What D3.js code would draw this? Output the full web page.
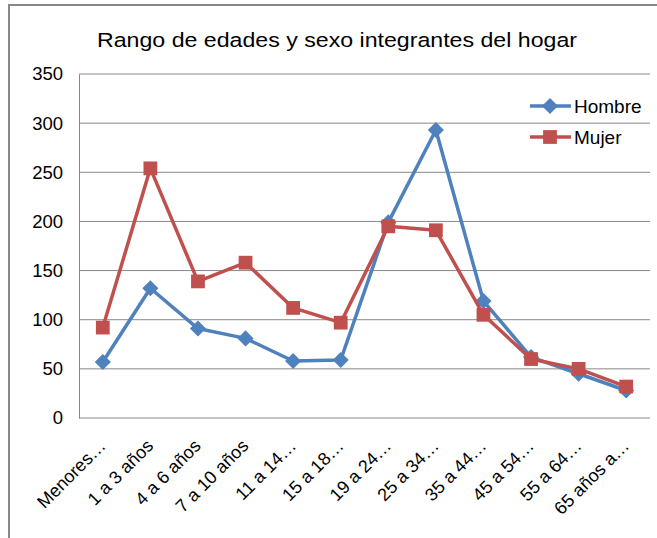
<!DOCTYPE html>
<html>
<head>
<meta charset="utf-8">
<script src="https://cdn.jsdelivr.net/npm/d3@7"></script>
<style>
  body { margin: 0; background: #fff; }
  svg { display: block; font-family: "Liberation Sans", Arial, sans-serif; }
</style>
</head>
<body>
<div id="chart"></div>
<script>
const categories = ["Menores…", "1 a 3 años", "4 a 6 años", "7 a 10 años", "11 a 14…", "15 a 18…",
  "19 a 24…", "25 a 34…", "35 a 44…", "45 a 54…", "55 a 64…", "65 años a…"];
const hombre = [57, 132, 91, 81, 58, 59, 199, 293, 119, 62, 45, 28];
const mujer = [92, 254, 139, 158, 112, 97, 195, 191, 105, 60, 50, 32];
const yTicks = [0, 50, 100, 150, 200, 250, 300, 350];

const width = 657, height = 538;
const margin = { top: 74, right: 7, bottom: 120, left: 79 };

const svg = d3.select("#chart").append("svg")
  .attr("width", width)
  .attr("height", height);

// outer frame (only left and top visible)
svg.append("path")
  .attr("d", "M9,538 V5 H657")
  .attr("fill", "none")
  .attr("stroke", "#888")
  .attr("stroke-width", 2);

svg.append("text")
  .attr("x", 337)
  .attr("y", 47)
  .attr("text-anchor", "middle")
  .attr("font-size", 20.5)
  .attr("textLength", 480)
  .attr("lengthAdjust", "spacingAndGlyphs")
  .text("Rango de edades y sexo integrantes del hogar");

const x = d3.scaleBand()
  .domain(categories)
  .range([margin.left, width - margin.right]);

const y = d3.scaleLinear()
  .domain([0, 350])
  .range([height - margin.bottom, margin.top]);

// gridlines
svg.append("g")
  .selectAll("line")
  .data(yTicks)
  .enter()
  .append("line")
  .attr("x1", margin.left)
  .attr("x2", width - margin.right)
  .attr("y1", d => y(d))
  .attr("y2", d => y(d))
  .attr("stroke", "#888")
  .attr("stroke-width", 1);

// y axis
const yAxis = d3.axisLeft(y).tickValues(yTicks).tickSize(0).tickPadding(16);
svg.append("g")
  .attr("transform", `translate(${margin.left},0)`)
  .call(yAxis)
  .call(g => g.select(".domain").attr("stroke", "#888"))
  .selectAll("text")
  .attr("font-size", 18.5)
  .attr("fill", "#000")
  .attr("font-family", "Liberation Sans, Arial, sans-serif");

// x axis labels
svg.append("g")
  .selectAll("text")
  .data(categories)
  .enter()
  .append("text")
  .attr("transform", d => `translate(${x(d) + x.bandwidth() / 2 + 4},${height - margin.bottom + 29}) rotate(-45)`)
  .attr("text-anchor", "end")
  .attr("font-size", 18)
  .text(d => d);

const cx = i => x(categories[i]) + x.bandwidth() / 2;
const line = d3.line().x((d, i) => cx(i)).y(d => y(d));

// diamond = square turned 45 degrees, as in the original
const series = [
  { name: "Hombre", values: hombre, color: "#4F81BD", shape: d3.symbolSquare, size: 130, rot: 45 },
  { name: "Mujer", values: mujer, color: "#C0504D", shape: d3.symbolSquare, size: 190, rot: 0 }
];

series.forEach(s => {
  svg.append("path")
    .datum(s.values)
    .attr("d", line)
    .attr("fill", "none")
    .attr("stroke", s.color)
    .attr("stroke-width", 3.5)
    .attr("stroke-linejoin", "round");

  svg.append("g")
    .selectAll("path")
    .data(s.values)
    .enter()
    .append("path")
    .attr("d", d3.symbol().type(s.shape).size(s.size))
    .attr("transform", (d, i) => `translate(${cx(i)},${y(d)}) rotate(${s.rot})`)
    .attr("fill", s.color);
});

// legend
const legend = svg.append("g");
series.forEach((s, i) => {
  const ly = 106 + i * 31;
  legend.append("line")
    .attr("x1", 530).attr("x2", 571)
    .attr("y1", ly).attr("y2", ly)
    .attr("stroke", s.color)
    .attr("stroke-width", 3.5);
  legend.append("path")
    .attr("d", d3.symbol().type(s.shape).size(s.size))
    .attr("transform", `translate(550,${ly}) rotate(${s.rot})`)
    .attr("fill", s.color);
  legend.append("text")
    .attr("x", 574)
    .attr("y", ly)
    .attr("dy", "0.35em")
    .attr("font-size", 19)
    .text(s.name);
});
</script>
</body>
</html>
